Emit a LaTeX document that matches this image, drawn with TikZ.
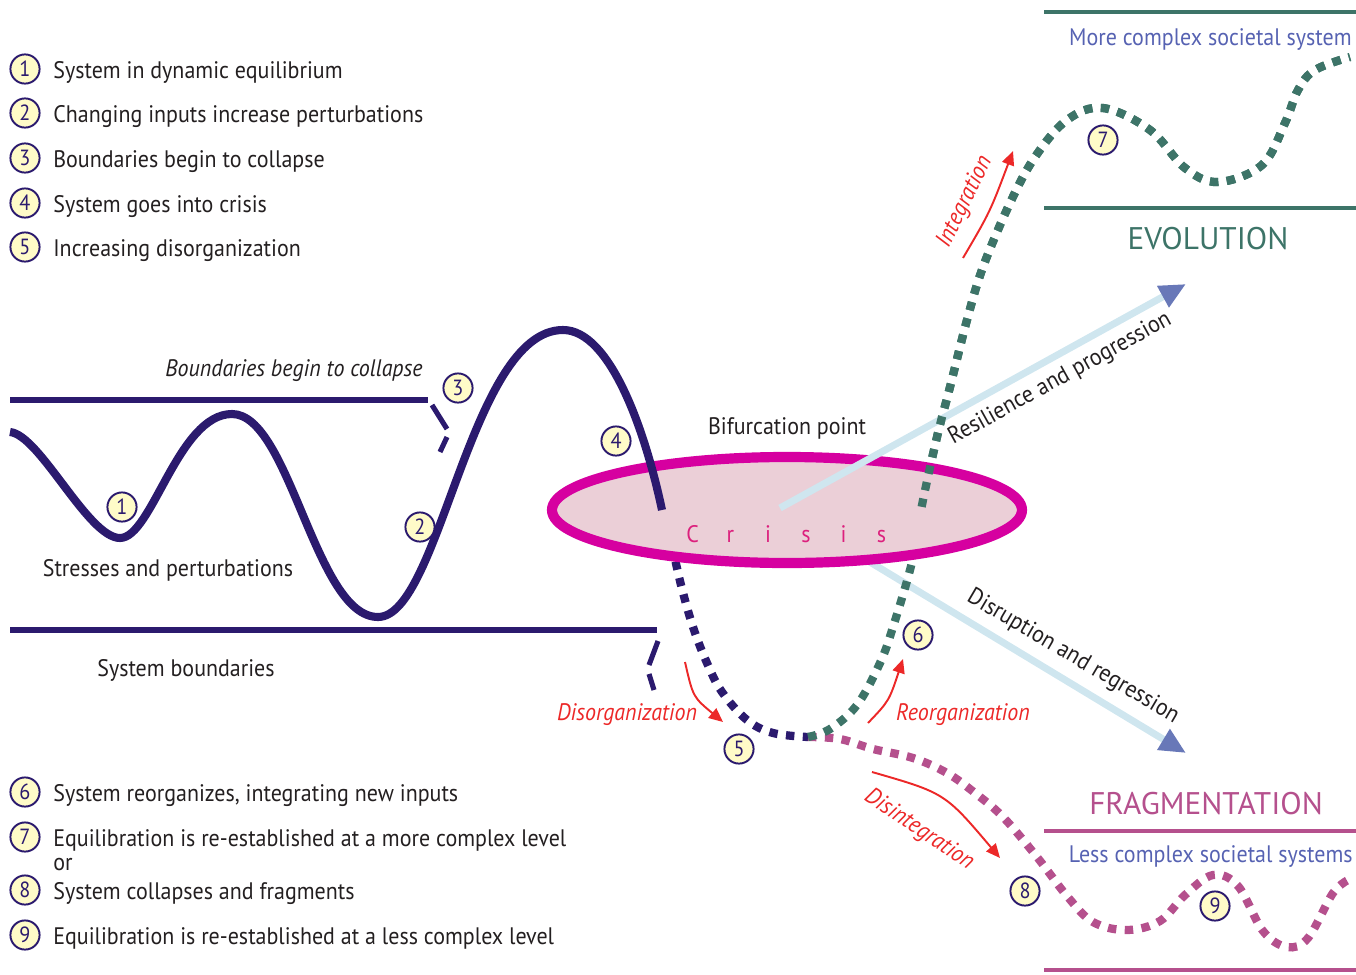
\documentclass[tikz,border=0pt]{standalone}
\usepackage{fontspec}
\setmainfont{PT Sans}[FakeStretch=0.92]
\newfontfamily\headfont{PT Sans}
\usetikzlibrary{arrows.meta}

\definecolor{navy}{RGB}{43,26,110}
\definecolor{numfill}{RGB}{255,251,200}
\definecolor{ink}{RGB}{35,31,32}
\definecolor{crisisring}{RGB}{214,0,160}
\definecolor{crisisfill}{RGB}{235,207,215}
\definecolor{crisistext}{RGB}{220,32,125}
\definecolor{evogreen}{RGB}{61,116,104}
\definecolor{fragpurple}{RGB}{181,80,141}
\definecolor{flowblue}{RGB}{207,230,239}
\definecolor{tipblue}{RGB}{104,120,184}
\definecolor{arrowred}{RGB}{236,40,40}
\definecolor{levelblue}{RGB}{86,98,178}

\begin{document}
\begin{tikzpicture}[x=0.02cm,y=-0.02cm,
  num/.style={circle, draw=navy, fill=numfill, line width=1.1pt,
    minimum size=16.6pt, inner sep=0pt, text=navy,
    font=\fontsize{12.5pt}{12.5pt}\selectfont},
  legend/.style={anchor=base west, inner sep=0pt, text=ink,
    font=\fontsize{13.6pt}{16pt}\selectfont},
  lbl/.style={anchor=base, inner sep=0pt, text=ink,
    font=\fontsize{13.6pt}{16pt}\selectfont},
  redlbl/.style={anchor=base, inner sep=0pt, text=arrowred,
    font=\fontsize{13.6pt}{16pt}\selectfont\itshape},
  levellbl/.style={anchor=base east, inner sep=0pt, text=levelblue,
    font=\fontsize{13.6pt}{16pt}\selectfont},
  headlbl/.style={anchor=base, inner sep=0pt,
    font=\fontsize{17.8pt}{20pt}\headfont},
  bound/.style={draw=navy, line width=3.9pt},
  brokenbound/.style={draw=navy, line width=2.9pt},
  levelline/.style={line width=2.6pt},
  squaredots/.style={line width=4.7pt, dash pattern=on 4.8pt off 4.8pt},
  redarrow/.style={draw=arrowred, line width=1.1pt,
    -{Triangle[length=8pt,width=7pt]}},
  flow/.style={draw=flowblue, line width=4pt,
    -{Triangle[length=15pt,width=13pt,color=tipblue]}},
]
\useasboundingbox (0,0) rectangle (1356,974);

% ---------- legend, first stage ----------
\node[num] (n1) at (25,69) {1};
\node[legend] (l1) at (53,78) {System in dynamic equilibrium};
\node[num] (n2) at (25,113) {2};
\node[legend] (l2) at (53,122) {Changing inputs increase perturbations};
\node[num] (n3) at (25,158) {3};
\node[legend] (l3) at (53,167) {Boundaries begin to collapse};
\node[num] (n4) at (25,203) {4};
\node[legend] (l4) at (53,212) {System goes into crisis};
\node[num] (n5) at (25,247) {5};
\node[legend] (l5) at (53,256) {Increasing disorganization};

% ---------- legend, second stage ----------
\node[num] (n6) at (25,792) {6};
\node[legend] (l6) at (53,801) {System reorganizes, integrating new inputs};
\node[num] (n7) at (25,837) {7};
\node[legend] (l7) at (53,846) {Equilibration is re-established at a more complex level};
\node[legend] (lor) at (53,870) {or};
\node[num] (n8) at (25,890) {8};
\node[legend] (l8) at (53,899) {System collapses and fragments};
\node[num] (n9) at (25,935) {9};
\node[legend] (l9) at (53,944) {Equilibration is re-established at a less complex level};

% ---------- system boundaries ----------
\coordinate (ubl) at (10,400);
\coordinate (ubr) at (428,400);
\coordinate (lbl) at (10,630);
\coordinate (lbr) at (657,630);
\draw[bound] (ubl) -- (ubr);
\draw[bound] (lbl) -- (lbr);
\coordinate (ua1) at (432,405); \coordinate (ua2) at (447,429);
\coordinate (ua3) at (447,437); \coordinate (ua4) at (440,452);
\draw[brokenbound] (ua1) -- (ua2);
\draw[brokenbound] (ua3) -- (ua4);
\coordinate (la1) at (658,641); \coordinate (la2) at (649,665);
\coordinate (la3) at (649,674); \coordinate (la4) at (654,690);
\draw[brokenbound] (la1) -- (la2);
\draw[brokenbound] (la3) -- (la4);

\node[lbl, font=\fontsize{13.6pt}{16pt}\selectfont\itshape] (tcollapse) at (294,376) {Boundaries begin to collapse};
\node[lbl] (tstress) at (168,576) {Stresses and perturbations};
\node[lbl] (tbound) at (186,676) {System boundaries};

% ---------- flows out of the crisis ----------
\coordinate (dstart) at (850,550);
\coordinate (dend) at (1186,753);
\draw[flow] (dstart) -- (dend);

% disorganization path into the crisis trough
\draw[navy, squaredots] plot[smooth, tension=0.6] coordinates
  {(672,545) (681,585) (693,627) (707,663) (722,692) (747,720) (773,733) (808,737)};

% fragmentation branch
\draw[fragpurple, squaredots] plot[smooth, tension=0.6] coordinates
  {(808,737) (840,739) (873,749) (913,758) (947,773) (975,793) (1003,817)
   (1037,857) (1067,896) (1093,922) (1127,930) (1160,921) (1185,895)
   (1213,875) (1238,886) (1263,931) (1287,947) (1308,938) (1333,893) (1350,879)};

% evolution branch (lower part, partly covered by the crisis)
\draw[evogreen, squaredots] plot[smooth, tension=0.6] coordinates
  {(808,737) (830,729) (857,705) (880,663) (893,627) (912,562) (922,505)
   (937,437) (950,387) (967,320) (983,267) (1010,203) (1035,157) (1067,120)
   (1103,108) (1150,130) (1185,168) (1218,182) (1262,165) (1285,123)
   (1298,90) (1315,70) (1350,57)};

% ---------- crisis ----------
\coordinate (cc) at (787,510);
\draw[crisisring, fill=crisisfill, line width=5.8pt] (cc) ellipse [x radius=235, y radius=53];

\coordinate (rstart) at (780,508);
\coordinate (rend) at (1186,284);
\draw[flow] (rstart) -- (rend);

% evolution branch above the crisis floor
\begin{scope}
  \clip (0,0) rectangle (1356,512);
  \draw[evogreen, squaredots] plot[smooth, tension=0.6] coordinates
    {(808,737) (830,729) (857,705) (880,663) (893,627) (912,562) (922,505)
     (937,437) (950,387) (967,320) (983,267) (1010,203) (1035,157) (1067,120)
     (1103,108) (1150,130) (1185,168) (1218,182) (1262,165) (1285,123)
     (1298,90) (1315,70) (1350,57)};
\end{scope}

% system trajectory: equilibrium, growing perturbations, fall into crisis
\coordinate (s0) at (10,432);
\coordinate (s1) at (120,538);
\coordinate (s2) at (232,414);
\coordinate (s3) at (378,617);
\coordinate (s4) at (563,330);
\coordinate (s5) at (662,510);
\draw[navy, line width=4.6pt]
  (s0) .. controls (40,435) and (88,538) .. (s1)
       .. controls (152,538) and (178,414) .. (s2)
       .. controls (290,414) and (315,617) .. (s3)
       .. controls (440,617) and (470,330) .. (s4)
       .. controls (610,330) and (645,430) .. (s5);

\node[inner sep=0pt, anchor=base, text=crisistext,
  font=\fontsize{13.6pt}{16pt}\selectfont] (crisis) at (787,542)
  {\makebox[21.5pt]{C}\makebox[21.5pt]{r}\makebox[21.5pt]{i}\makebox[21.5pt]{s}\makebox[21.5pt]{i}\makebox[21.5pt]{s}};
\node[lbl] (tbif) at (787,434) {Bifurcation point};

\node[lbl, rotate=29] (tres) at (1063,384) {Resilience and progression};
\node[lbl, rotate=-30.5] (tdis) at (1070,662) {Disruption and regression};

% ---------- process arrows ----------
\coordinate (da1) at (685,662); \coordinate (da2) at (723,722);
\draw[redarrow] (da1) .. controls (693,697) .. (da2);
\node[redlbl] (tdisorg) at (627,720) {Disorganization};

\coordinate (ra1) at (868,723); \coordinate (ra2) at (903,659);
\draw[redarrow] (ra1) .. controls (889,701) .. (ra2);
\node[redlbl] (treorg) at (963,720) {Reorganization};

\coordinate (ia1) at (963,258); \coordinate (ia2) at (1013,151);
\draw[redarrow] (ia1) .. controls (990,212) .. (ia2);
\node[redlbl, anchor=center, rotate=64] (tint) at (965,202) {Integration};

\coordinate (fa1) at (872,772); \coordinate (fa2) at (1000,858);
\draw[redarrow] (fa1) .. controls (945,793) .. (fa2);
\node[redlbl, anchor=center, rotate=-34] (tdisint) at (919,830) {Disintegration};

% ---------- outcome levels ----------
\draw[evogreen, levelline] (1044,12) -- (1356,12);
\draw[evogreen, levelline] (1044,208) -- (1356,208);
\node[levellbl] (tmore) at (1352,45) {More complex societal system};
\node[headlbl, text=evogreen] (tevo) at (1208,249) {EVOLUTION};

\node[headlbl, text=fragpurple] (tfrag) at (1206,814) {FRAGMENTATION};
\draw[fragpurple, levelline] (1044,831) -- (1356,831);
\draw[fragpurple, levelline] (1044,970) -- (1356,970);
\node[levellbl] (tless) at (1353,862) {Less complex societal systems};

% ---------- stage markers ----------
\node[num] (m1) at (122,507) {1};
\node[num] (m2) at (420,527) {2};
\node[num] (m3) at (458,388) {3};
\node[num] (m4) at (616,441) {4};
\node[num] (m5) at (739,749) {5};
\node[num] (m6) at (918,635) {6};
\node[num] (m7) at (1103,140) {7};
\node[num] (m8) at (1025,891) {8};
\node[num] (m9) at (1215,906) {9};
\end{tikzpicture}
\end{document}
